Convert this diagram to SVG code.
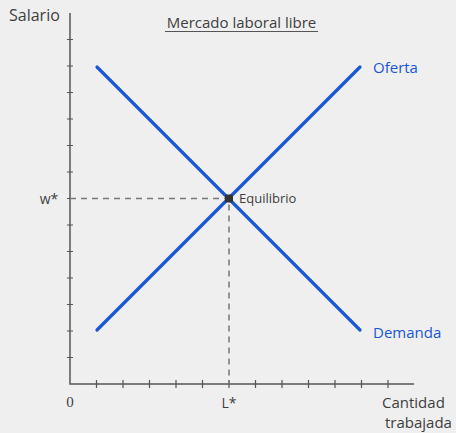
<svg xmlns="http://www.w3.org/2000/svg" width="456" height="433" viewBox="0 0 456 433">
<style>
.t{font-family:"Open Sans","Noto Sans",sans-serif;fill:#3e3e3e}
.axis{stroke:#555;stroke-width:1.5;fill:none}
.tick{stroke:#555;stroke-width:1.2}
.curve{stroke:#1857d6;stroke-width:3.2;stroke-linecap:round;fill:none}
.guide{stroke:#777;stroke-width:1.5;stroke-dasharray:6,5;fill:none}
.blue{fill:#1857d6}
</style>
<rect width="456" height="433" fill="#efefef"/>
<g id="axes">
<path class="axis" d="M70,13 V384 H414"/>
<g class="tick">
<path d="M67,39.5h6M67,66h6M67,92.5h6M67,119h6M67,145.5h6M67,172h6M67,198.5h6M67,225h6M67,251.5h6M67,278h6M67,304.5h6M67,331h6M67,357.5h6"/>
<path d="M96.5,380v8M123,380v8M149.5,380v8M176,380v8M202.5,380v8M229,380v8M255.5,380v8M282,380v8M308.5,380v8M335,380v8M361.5,380v8M388,380v8"/>
</g>
<text class="t" x="9" y="21" font-size="16">Salario</text>
<text class="t" x="382" y="408" font-size="15">Cantidad</text>
<text class="t" x="385" y="428" font-size="15">trabajada</text>
<text x="70" y="407" font-size="15" text-anchor="middle" font-family="Liberation Serif,serif" fill="#3e3e3e">0</text>
<text class="t" x="229" y="408" font-size="14" text-anchor="middle">L*</text>
<text class="t" x="49" y="204" font-size="14" text-anchor="middle">w*</text>
</g>
<g id="title">
<text class="t" x="241.5" y="28" font-size="15">
<tspan text-anchor="middle">Mercado laboral libre</tspan></text>
<line x1="165" y1="31.5" x2="318" y2="31.5" stroke="#555" stroke-width="1.2"/>
</g>
<g id="connectors">
<path class="guide" d="M70,198.5H229V384"/>
</g>
<g id="demanda">
<line class="curve" x1="97" y1="67" x2="360" y2="330"/>
<text class="t blue" x="373" y="338" font-size="15">Demanda</text>
</g>
<g id="oferta">
<line class="curve" x1="97" y1="330" x2="360" y2="67"/>
<text class="t blue" x="373" y="73" font-size="15">Oferta</text>
</g>
<g id="equilibrio">
<rect x="225" y="194.5" width="8" height="8" rx="1.5" fill="#333"/>
<text class="t" x="239" y="203" font-size="13">Equilibrio</text>
</g>
</svg>
